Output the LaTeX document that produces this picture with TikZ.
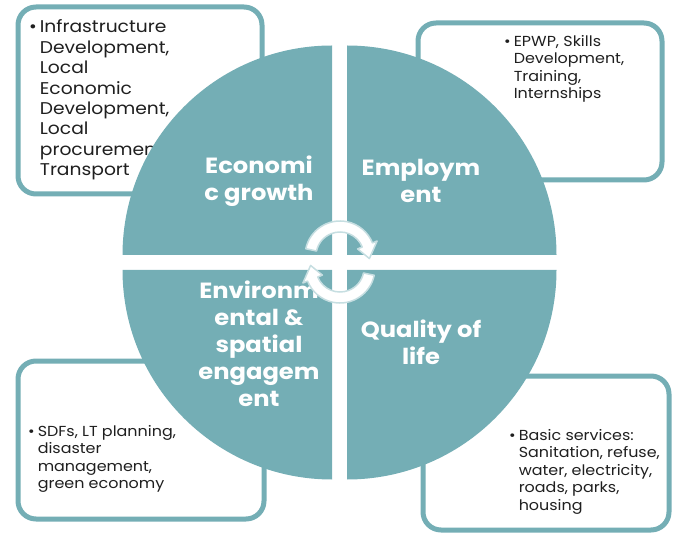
\documentclass[tikz,border=0pt]{standalone}
\usepackage{fontspec}
\setmainfont{Poppins}[FakeStretch=1.1]
\usepackage{tikz}
\usetikzlibrary{calc}
\definecolor{segteal}{RGB}{116,174,181}
\definecolor{arrowrim}{RGB}{198,222,225}
\tikzstyle{infobox}=[draw=segteal,line width=5pt,fill=white,rounded corners=18pt,inner sep=0pt]
\tikzstyle{segment}=[fill=segteal]
\tikzstyle{seglabel}=[text=white,font=\bfseries\fontsize{22}{27}\selectfont,align=center,inner sep=0pt]
\tikzstyle{bullets}=[text=black!88,anchor=base west,inner sep=0pt]
\tikzstyle{cyclearrow}=[fill=white,draw=arrowrim,line width=1.5pt,line join=round]
\newcommand{\bulletlist}[1]{\begin{tabular}[t]{@{}l@{\hspace{3pt}}l@{}}\textbullet & #1\end{tabular}}

\begin{document}
\begin{tikzpicture}[x=1pt,y=-1pt]
    \useasboundingbox (0,0) rectangle (674,534);
    % First we draw the four boxes
    \foreach \pos/\w/\h/\name in {{(140,100.5)/244/187/boxEG}, {(540,101.5)/244/157/boxEM},
                                  {(141,440)/246/158/boxENV}, {(546,453)/246/154/boxQL}}
        \node[infobox,minimum width=\w pt,minimum height=\h pt] (\name) at \pos {};

    % Bullet text in the boxes
    \node[bullets,font=\fontsize{17}{20.4}\selectfont] (listEG) at (29,33)
        {\bulletlist{Infrastructure\\ & Development,\\ & Local\\ & Economic\\ & Development,\\ & Local\\ & procurement,\\ & Transport}};
    \node[bullets,font=\fontsize{14.5}{17.3}\selectfont] (listEM) at (504,46.5)
        {\bulletlist{EPWP, Skills\\ & Development,\\ & Training,\\ & Internships}};
    \node[bullets,font=\fontsize{14.5}{17.5}\selectfont] (listENV) at (28,436)
        {\bulletlist{SDFs, LT planning,\\ & disaster\\ & management,\\ & green economy}};
    \node[bullets,font=\fontsize{14.5}{17.6}\selectfont] (listQL) at (509,440)
        {\bulletlist{Basic services:\\ & Sanitation, refuse,\\ & water, electricity,\\ & roads, parks,\\ & housing}};

    % The circle, four quarters with a gap
    \foreach \corner/\from/\to in {(332,255)/180/270, (347,255)/270/360, (347,270)/0/90, (332,270)/90/180}
        \fill[segment] \corner -- ++(\from:209.5) arc[start angle=\from,end angle=\to,radius=209.5] -- cycle;

    % Labels of the quarters
    \node[seglabel] (segEG) at (259,181.5) {Economi\\c growth};
    \node[seglabel] (segEM) at (421,181) {Employm\\ent};
    \node[seglabel] (segENV) at (259,343.5) {Environm\\ental \&\\spatial\\engagem\\ent};
    \node[seglabel] (segQL) at (421,342.5) {Quality of\\life};

    % Circular arrows in the middle
    \coordinate (upC) at (340,256);
    \coordinate (loC) at (340,268);
    \path[cyclearrow] ($(upC)+(192:35)$) arc[start angle=192,end angle=338,radius=35]
        -- ($(upC)+(338:40)$) -- ($(upC)+(365:29.5)$) -- ($(upC)+(338:19)$)
        -- ($(upC)+(338:24)$) arc[start angle=338,end angle=192,radius=24] -- cycle;
    \path[cyclearrow] ($(loC)+(12:35)$) arc[start angle=12,end angle=158,radius=35]
        -- ($(loC)+(158:40)$) -- ($(loC)+(185:29.5)$) -- ($(loC)+(158:19)$)
        -- ($(loC)+(158:24)$) arc[start angle=158,end angle=12,radius=24] -- cycle;
\end{tikzpicture}
\end{document}
